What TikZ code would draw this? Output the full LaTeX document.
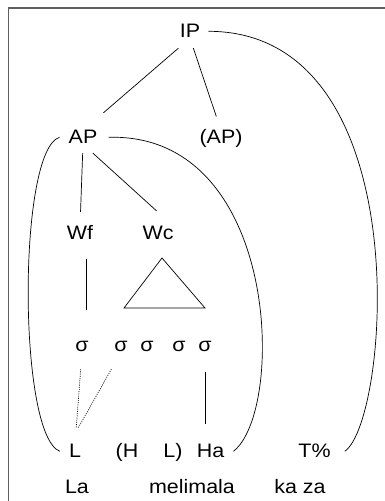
\documentclass[tikz,border=0pt]{standalone}
\usepackage{fontspec}
\setmainfont{Liberation Sans}[FakeStretch=1.1]
\definecolor{framegray}{RGB}{95,95,95}

\begin{document}
\begin{tikzpicture}[x=1pt, y=1pt,
  lbl/.style={inner sep=0, anchor=base, text height=13.4pt, text depth=0pt, font=\fontsize{19.5}{22}\selectfont},
  branch/.style={line width=0.7pt},
  assoc/.style={line width=0.7pt, dash pattern=on 1pt off 1.2pt},
  bracket/.style={line width=0.7pt}]
\useasboundingbox (0,0) rectangle (385,501);
\draw[line width=1.6pt, framegray] (8.5,0) -- (8.5,492.7) -- (385,492.7);
\node[lbl] (ip) at (190,463) {IP};
\node[lbl] (ap) at (83,357) {AP};
\node[lbl] (apopt) at (221,357) {(AP)};
\node[lbl] (wf) at (80,261) {Wf};
\node[lbl] (wc) at (158,261) {Wc};
\node[lbl] (s1) at (82,149) {σ};
\node[lbl] (s2) at (121,149) {σ};
\node[lbl] (s3) at (147,149) {σ};
\node[lbl] (s4) at (179,149) {σ};
\node[lbl] (s5) at (205,149) {σ};
\node[lbl] (tl) at (75,43) {L};
\node[lbl] (th) at (127,43) {(H};
\node[lbl] (tl2) at (173,43) {L)};
\node[lbl] (tha) at (210.5,43) {Ha};
\node[lbl] (tt) at (314.5,43) {T\%};
\node[lbl] (w1) at (77,8) {La};
\node[lbl] (w2) at (192,8) {melimala};
\node[lbl] (w3) at (300,8) {ka za};
% Tree
\draw[branch, shorten <=15.3pt, shorten >=26.9pt] (ip.south) -- (ap.north);
\draw[branch, shorten <=10.5pt, shorten >=14.7pt] (ip.south) -- (apopt.north);
\draw[branch, shorten <=9pt, shorten >=14.6pt] (ap.south) -- (wf.north);
\draw[branch, shorten <=13.3pt, shorten >=23.1pt] (ap.south) -- (wc.north east);
\draw[branch, shorten <=19pt, shorten >=28.6pt] ([xshift=6pt]wf.south) -- ([xshift=6pt]wf.south |- s1.north);
\draw[branch] (162,243) -- (124,193) -- (205,193) -- cycle;
% Association lines
\draw[assoc, shorten <=17.1pt, shorten >=17pt] (s1.south) -- (tl.north);
\draw[assoc, shorten <=19.5pt, shorten >=19.4pt] (s2.south) -- (tl.north west);
\draw[branch, shorten <=20pt, shorten >=20.6pt] (s5.south) -- (s5.south |- tha.north);
% Brackets:
\draw[bracket] ([xshift=8pt]ip.east) .. controls +(212,0) and +(45,31) .. ([xshift=14pt]tt.east);
\draw[bracket] ([xshift=-9pt]ap.west) .. controls +(-42,-13) and +(-42,16) .. ([xshift=-9pt]tl.west);
\draw[bracket] ([xshift=11pt]ap.east) .. controls +(172,5) and +(52,40) .. ([xshift=9pt]tha.east);
\end{tikzpicture}
\end{document}
